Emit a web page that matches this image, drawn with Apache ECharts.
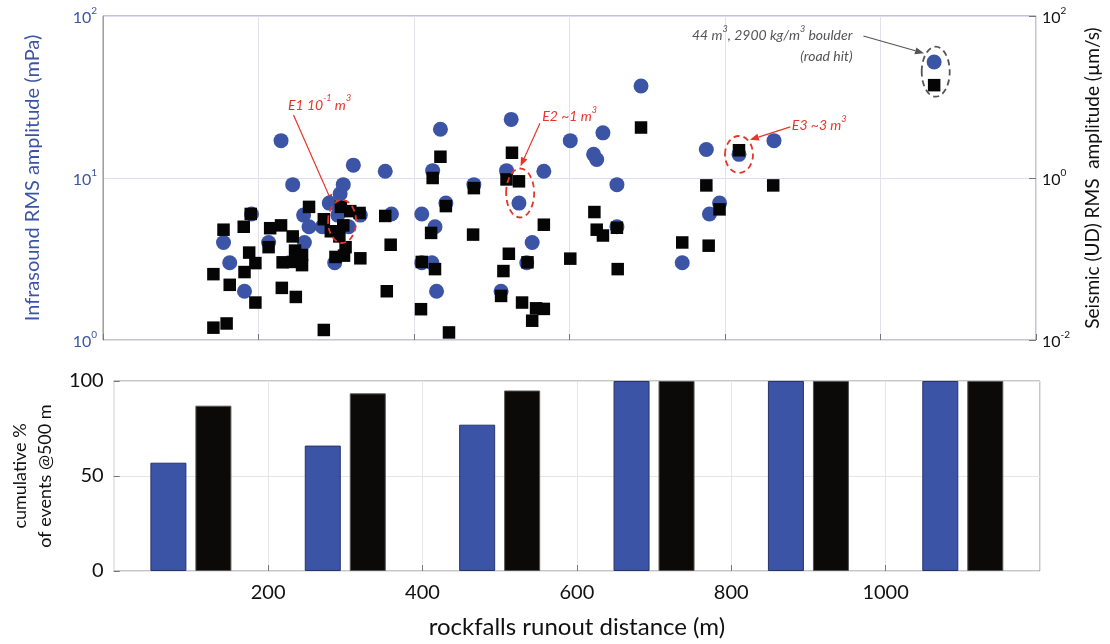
<!DOCTYPE html>
<html>
<head>
<meta charset="utf-8">
<title>rockfalls runout</title>
<script src="https://cdn.jsdelivr.net/npm/echarts@6.0.0/dist/echarts.min.js"></script>
<style>
html, body { margin: 0; padding: 0; background: #fff; }
#echarts { width: 1110px; height: 644px; }
</style>
</head>
<body>
<div id="echarts"></div>
<script>
// 次声 RMS 振幅 (mPa) —— [runout m, amplitude]
var infrasound = [
    [155, 4.0], [163, 3.0], [182, 2.0], [191, 6.0], [213, 4.0], [229, 17], [244, 9.1], [258, 5.9],
    [259, 4.0], [265, 5.0], [282, 5.0], [291, 7.0], [298, 3.0], [302, 5.9], [305, 8.0], [309, 9.1],
    [316, 5.0], [322, 12], [331, 5.9], [363, 11], [371, 6.0], [410, 6.0], [410, 3.0], [423, 3.0],
    [424, 11.1], [427, 5.0], [429, 2.0], [434, 20], [441, 7.0], [477, 9.1], [512, 2.0], [519, 11.1],
    [525, 23], [535, 7.0], [545, 3.0], [552, 4.0], [567, 11], [601, 17], [631, 14], [635, 13],
    [643, 19], [661, 9.1], [661, 5.0], [692, 37], [745, 3.0], [776, 15], [780, 6.0], [793, 7.0],
    [818, 14], [863, 17], [1069, 52]
];
// 地震 (UD) RMS 振幅 (um/s) —— [runout m, amplitude]
var seismic = [
    [142, 0.065], [155, 0.23], [163, 0.048], [181, 0.25], [190, 0.36], [188, 0.12], [196, 0.089],
    [182, 0.069], [196, 0.029], [215, 0.24], [213, 0.14], [229, 0.26], [244, 0.19], [230, 0.044],
    [248, 0.034], [247, 0.127], [256, 0.112], [231, 0.091], [244, 0.092], [256, 0.084], [265, 0.44],
    [284, 0.31], [293, 0.22], [306, 0.44], [318, 0.39], [330, 0.37], [309, 0.26], [304, 0.19],
    [312, 0.14], [299, 0.106], [310, 0.11], [331, 0.102], [142, 0.0142], [159, 0.016], [284, 0.0133],
    [363, 0.34], [370, 0.15], [365, 0.040], [434, 1.83], [424, 1.0], [441, 0.45], [422, 0.21],
    [410, 0.092], [427, 0.075], [409, 0.024], [445, 0.0124], [477, 0.75], [476, 0.20], [526, 2.05],
    [519, 0.96], [535, 0.91], [567, 0.265], [522, 0.116], [515, 0.071], [546, 0.091], [512, 0.035],
    [539, 0.029], [557, 0.0246], [567, 0.0242], [552, 0.0173], [601, 0.101], [632, 0.38], [635, 0.23],
    [643, 0.195], [661, 0.243], [662, 0.075], [692, 4.2], [745, 0.16], [776, 0.81], [793, 0.41],
    [779, 0.146], [818, 2.2], [862, 0.81], [1069, 14]
];
// 下图：累计百分比 @500 m，每组中心 (m)
var barCenters = [100, 300, 500, 700, 900, 1100];
var infraPct = [57, 66, 77, 100, 100, 100];
var seismicPct = [87, 93.5, 95, 100, 100, 100];

var BLUE = '#3b54a5';
var RED = '#e8352b';
var FONT = 'Lato, "Open Sans", sans-serif';

// 10^n 标签
function powLabel(v) {
    var e = Math.round(Math.log(v) / Math.LN10);
    return '{b|10}{s|' + (e < 0 ? '-' : '') + Math.abs(e) + '}';
}
function powRich(color) {
    return {
        b: { fontSize: 16, color: color, fontFamily: FONT, lineHeight: 20, verticalAlign: 'bottom' },
        s: { fontSize: 10, color: color, fontFamily: FONT, lineHeight: 10, verticalAlign: 'top' }
    };
}
function pairs(xs, ys) {
    return xs.map(function (x, i) { return [x, ys[i]]; });
}

var myChart = echarts.init(document.getElementById('echarts'));
var option = {
    animation: false,
    textStyle: { fontFamily: FONT },
    grid: [
        { left: 103, top: 16, width: 937, height: 324, show: true, borderColor: '#8c8c8c', borderWidth: 1 },
        { left: 103, top: 381, width: 937, height: 190, show: true, borderColor: '#8c8c8c', borderWidth: 1 }
    ],
    xAxis: [
        {
            gridIndex: 0, type: 'value', min: 0, max: 1200, interval: 200,
            axisLine: { show: false },
            axisLabel: { show: false },
            axisTick: { inside: true, length: 6, lineStyle: { color: '#777' } },
            splitLine: { show: true, lineStyle: { color: '#e2e2ea' } }
        },
        {
            gridIndex: 1, type: 'value', min: 0, max: 1200, interval: 200, position: 'bottom',
            name: 'rockfalls runout distance (m)', nameLocation: 'middle', nameGap: 44,
            nameTextStyle: { fontSize: 24, color: '#111', fontFamily: FONT },
            axisLine: { show: false },
            axisTick: { inside: true, length: 6, lineStyle: { color: '#777' } },
            axisLabel: {
                showMinLabel: false, showMaxLabel: false, fontSize: 20, color: '#111', margin: 12, fontFamily: FONT,
                formatter: function (v) { return String(v); }
            },
            splitLine: { show: true, lineStyle: { color: '#e6e6e6' } }
        }
    ],
    yAxis: [
        {
            gridIndex: 0, type: 'log', logBase: 10, min: 1, max: 100, position: 'left',
            name: 'Infrasound RMS amplitude (mPa)', nameLocation: 'middle', nameGap: 60,
            nameTextStyle: { fontSize: 20, color: BLUE, fontFamily: FONT },
            axisLine: { show: true, lineStyle: { color: '#9a9ad8' } },
            axisTick: { show: false },
            axisLabel: { formatter: powLabel, rich: powRich(BLUE), margin: 6 },
            splitLine: { show: true, lineStyle: { color: '#dedef2' } }
        },
        {
            gridIndex: 0, type: 'log', logBase: 10, min: 0.01, max: 100, interval: 2, position: 'right',
            name: 'Seismic (UD) RMS  amplitude (\u00b5m/s)', nameLocation: 'middle', nameGap: 47,
            nameTextStyle: { fontSize: 19, color: '#111', fontFamily: FONT },
            axisLine: { show: false },
            axisTick: { inside: true, length: 7, lineStyle: { color: '#777' } },
            axisLabel: { formatter: powLabel, rich: powRich('#111'), margin: 6 },
            splitLine: { show: false }
        },
        {
            gridIndex: 1, type: 'value', min: 0, max: 100, interval: 50,
            name: 'cumulative %\nof events @500 m', nameLocation: 'middle', nameGap: 44,
            nameTextStyle: { fontSize: 18, color: '#111', lineHeight: 25, fontFamily: FONT },
            axisLine: { show: false },
            axisTick: { inside: true, length: 6, lineStyle: { color: '#777' } },
            axisLabel: { fontSize: 20, color: '#111', margin: 10, fontFamily: FONT },
            splitLine: { show: true, lineStyle: { color: '#e6e6e6' } }
        }
    ],
    series: [
        {
            name: 'infrasound', type: 'scatter', xAxisIndex: 0, yAxisIndex: 0,
            data: infrasound, symbol: 'circle', symbolSize: 15,
            itemStyle: { color: BLUE, opacity: 1 }
        },
        {
            name: 'seismic', type: 'scatter', xAxisIndex: 0, yAxisIndex: 1,
            data: seismic, symbol: 'rect', symbolSize: 12.5,
            itemStyle: { color: '#050505', opacity: 1 }
        },
        {
            name: 'infra %', type: 'bar', xAxisIndex: 1, yAxisIndex: 2,
            data: pairs(barCenters, infraPct), barWidth: 36, barGap: '25%',
            itemStyle: { color: BLUE, borderColor: '#26336e', borderWidth: 1 }
        },
        {
            name: 'seismic %', type: 'bar', xAxisIndex: 1, yAxisIndex: 2,
            data: pairs(barCenters, seismicPct), barWidth: 36, barGap: '25%',
            itemStyle: { color: '#0b0a08', borderColor: '#555', borderWidth: 1 }
        }
    ]
};
myChart.setOption(option);

/**
 * 注释：位置用数据坐标 (m, mPa)，再通过坐标轴换算成像素
 */
var notes = [
    { text: '{a|E1 10}{s|-1}{a| m}{s|3}', at: [238, 29.0], color: RED, align: 'left',
      from: [245, 24.5], to: [295, 6.98], ring: [307.5, 5.39], rx: 14, ry: 21.5 },
    { text: '{a|E2 ~1 m}{s|3}', at: [565, 24.5], color: RED, align: 'left',
      from: [562, 21.8], to: [537, 11.8], ring: [536.5, 8.08], rx: 14, ry: 24.5 },
    { text: '{a|E3 ~3 m}{s|3}', at: [886, 21.8], color: RED, align: 'left',
      from: [884, 20.7], to: [832, 17.2], ring: [818, 13.97], rx: 14, ry: 18.5 },
    { text: '{a|44 m}{s|3}{a|, 2900 kg/m}{s|3}{a| boulder}', at: [964, 78.2], color: '#555', align: 'right',
      from: [978, 75.3], to: [1056, 58.9], ring: [1071, 45.3], rx: 14, ry: 25 },
    { text: '{a|(road hit)}', at: [964, 57.5], color: '#555', align: 'right' }
];

function toPx(p) {
    return myChart.convertToPixel({ xAxisIndex: 0, yAxisIndex: 0 }, p);
}

function arrowParts(from, to, color) {
    var a = toPx(from), b = toPx(to);
    var ang = Math.atan2(b[1] - a[1], b[0] - a[0]);
    var L = 9, W = 3.5;
    var bx = b[0] - L * Math.cos(ang), by = b[1] - L * Math.sin(ang);
    return [
        { type: 'line', silent: true, shape: { x1: a[0], y1: a[1], x2: bx, y2: by },
          style: { stroke: color, lineWidth: 1.2 } },
        { type: 'polygon', silent: true,
          shape: { points: [b, [bx + W * Math.sin(ang), by - W * Math.cos(ang)], [bx - W * Math.sin(ang), by + W * Math.cos(ang)]] },
          style: { fill: color } }
    ];
}

var graphics = [];
notes.forEach(function (n) {
    var p = toPx(n.at);
    graphics.push({
        type: 'text', silent: true, x: p[0], y: p[1], z: 100,
        style: {
            text: n.text, align: n.align, verticalAlign: 'middle',
            rich: {
                a: { fontSize: 14, fontStyle: 'italic', fill: n.color, fontFamily: FONT, lineHeight: 18, verticalAlign: 'bottom' },
                s: { fontSize: 9, fontStyle: 'italic', fill: n.color, fontFamily: FONT, lineHeight: 9, verticalAlign: 'top' }
            }
        }
    });
    if (n.from) {
        graphics = graphics.concat(arrowParts(n.from, n.to, n.color));
    }
    if (n.ring) {
        var c = toPx(n.ring);
        graphics.push({
            type: 'ellipse', silent: true, z: 100,
            shape: { cx: c[0], cy: c[1], rx: n.rx, ry: n.ry },
            style: { fill: null, stroke: n.color, lineWidth: 1.8, lineDash: [6, 4] }
        });
    }
});
myChart.setOption({ graphic: graphics });
</script>
</body>
</html>
